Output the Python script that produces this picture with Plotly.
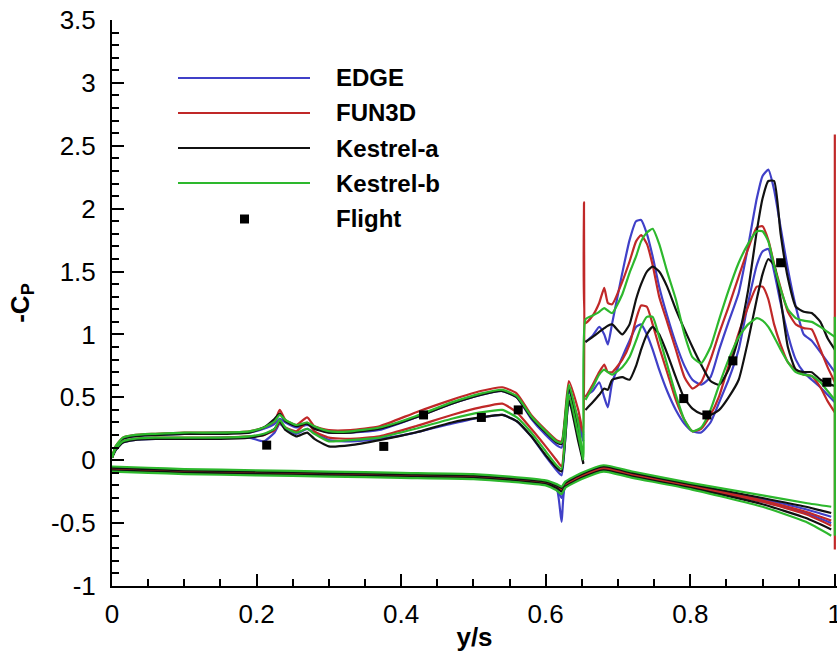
import plotly.graph_objects as go

# ---------------- data ----------------
# inboard upper surface, y/s from root to the crank
X_INNER = [0.0, 0.005, 0.015, 0.03, 0.06, 0.10, 0.15, 0.19, 0.21, 0.225, 0.232, 0.24, 0.255,
           0.27, 0.28, 0.30, 0.33, 0.37, 0.42, 0.47, 0.51, 0.54, 0.56, 0.58, 0.60, 0.615,
           0.622, 0.632, 0.645, 0.652]

EDGE_IN_A = [0.02, 0.10, 0.17, 0.19, 0.20, 0.21, 0.22, 0.22, 0.25, 0.29, 0.33, 0.30, 0.26,
             0.28, 0.26, 0.22, 0.22, 0.24, 0.34, 0.45, 0.52, 0.55, 0.50, 0.33, 0.20, 0.12,
             0.10, 0.55, 0.32, 0.20]
FUN3D_IN_A = [0.02, 0.11, 0.18, 0.20, 0.21, 0.22, 0.22, 0.23, 0.26, 0.31, 0.40, 0.32, 0.28,
              0.34, 0.27, 0.24, 0.24, 0.27, 0.38, 0.48, 0.55, 0.58, 0.53, 0.36, 0.24, 0.16,
              0.15, 0.63, 0.40, 0.22]
KA_IN_A = [0.02, 0.10, 0.17, 0.19, 0.20, 0.21, 0.21, 0.22, 0.26, 0.33, 0.37, 0.31, 0.27,
           0.29, 0.25, 0.22, 0.22, 0.25, 0.34, 0.45, 0.52, 0.55, 0.50, 0.34, 0.22, 0.14,
           0.13, 0.58, 0.25, -0.03]
KB_IN_A = [0.02, 0.11, 0.18, 0.20, 0.21, 0.22, 0.22, 0.23, 0.26, 0.31, 0.36, 0.32, 0.28,
           0.30, 0.27, 0.23, 0.23, 0.26, 0.35, 0.46, 0.53, 0.56, 0.51, 0.35, 0.23, 0.15,
           0.14, 0.60, 0.30, 0.01]

EDGE_IN_B = [0.02, 0.08, 0.14, 0.16, 0.17, 0.17, 0.18, 0.18, 0.15, 0.22, 0.29, 0.25, 0.21,
             0.25, 0.22, 0.16, 0.15, 0.17, 0.22, 0.29, 0.34, 0.36, 0.31, 0.19, 0.03, -0.08,
             -0.12, 0.45, 0.30, 0.15]
FUN3D_IN_B = [0.02, 0.09, 0.15, 0.17, 0.18, 0.18, 0.18, 0.19, 0.20, 0.24, 0.30, 0.26, 0.23,
              0.30, 0.23, 0.18, 0.17, 0.19, 0.27, 0.36, 0.42, 0.45, 0.38, 0.25, 0.11, 0.00,
              -0.05, 0.50, 0.33, 0.22]
KA_IN_B = [0.02, 0.08, 0.14, 0.16, 0.17, 0.17, 0.17, 0.18, 0.20, 0.25, 0.31, 0.24, 0.19,
           0.22, 0.17, 0.11, 0.12, 0.16, 0.22, 0.30, 0.34, 0.36, 0.31, 0.19, 0.04, -0.06,
           -0.09, 0.48, 0.15, -0.02]
KB_IN_B = [0.02, 0.09, 0.15, 0.17, 0.18, 0.18, 0.18, 0.19, 0.21, 0.25, 0.32, 0.26, 0.22,
           0.25, 0.21, 0.15, 0.16, 0.18, 0.25, 0.33, 0.38, 0.40, 0.34, 0.22, 0.07, -0.04,
           -0.07, 0.52, 0.20, 0.00]

# outboard upper surface, crank to tip
X_OUTER = [0.655, 0.665, 0.674, 0.681, 0.686, 0.692, 0.706, 0.716, 0.725, 0.732, 0.740,
           0.748, 0.757, 0.768, 0.780, 0.792, 0.803, 0.815, 0.828, 0.840, 0.853, 0.867,
           0.880, 0.892, 0.900, 0.908, 0.916, 0.925, 0.935, 0.946, 0.957, 0.968, 0.980,
           0.990, 1.0]

EDGE_OUT_A = [0.94, 0.99, 1.06, 1.00, 0.92, 1.09, 1.49, 1.75, 1.90, 1.91, 1.80, 1.62, 1.38,
              1.15, 0.93, 0.75, 0.64, 0.60, 0.66, 0.88, 1.10, 1.33, 1.70, 2.08, 2.26, 2.31,
              2.15, 1.85, 1.52, 1.22, 1.00, 0.95, 0.86, 0.78, 0.70]
FUN3D_OUT_A = [1.09, 1.15, 1.25, 1.37, 1.25, 1.24, 1.42, 1.58, 1.74, 1.79, 1.72, 1.55, 1.30,
               1.10, 0.88, 0.66, 0.57, 0.62, 0.80, 1.01, 1.22, 1.46, 1.68, 1.85, 1.86, 1.75,
               1.56, 1.37, 1.18, 1.08, 1.05, 1.04, 0.88, 0.74, 0.62]
KA_OUT_A = [0.94, 0.98, 1.02, 1.05, 1.07, 1.08, 1.00, 1.08, 1.28, 1.40, 1.50, 1.54, 1.50,
            1.38, 1.20, 1.04, 0.90, 0.76, 0.63, 0.60, 0.72, 0.98, 1.35, 1.82, 2.08, 2.22,
            2.22, 1.80, 1.45, 1.22, 1.18, 1.17, 1.10, 0.97, 0.88]
KB_OUT_A = [1.12, 1.15, 1.18, 1.21, 1.19, 1.17, 1.32, 1.49, 1.62, 1.74, 1.81, 1.84, 1.72,
            1.50, 1.28, 1.00, 0.82, 0.77, 0.90, 1.12, 1.35, 1.57, 1.72, 1.82, 1.82, 1.74,
            1.55, 1.36, 1.20, 1.13, 1.11, 1.10, 1.06, 1.02, 0.98]

EDGE_OUT_B = [0.51, 0.55, 0.62, 0.50, 0.42, 0.62, 0.82, 0.95, 1.06, 1.08, 1.00, 0.88, 0.72,
              0.55, 0.40, 0.29, 0.23, 0.22, 0.30, 0.46, 0.64, 0.88, 1.25, 1.55, 1.66, 1.68,
              1.50, 1.25, 1.00, 0.80, 0.70, 0.64, 0.58, 0.52, 0.46]
FUN3D_OUT_B = [0.50, 0.60, 0.70, 0.76, 0.70, 0.70, 0.80, 0.92, 1.12, 1.23, 1.22, 1.08, 0.90,
               0.70, 0.48, 0.32, 0.23, 0.25, 0.36, 0.51, 0.75, 1.01, 1.22, 1.38, 1.38, 1.28,
               1.08, 0.92, 0.78, 0.72, 0.68, 0.67, 0.58, 0.47, 0.38]
KA_OUT_B = [0.40, 0.46, 0.52, 0.57, 0.56, 0.64, 0.66, 0.64, 0.75, 0.88, 1.00, 1.06, 1.00,
            0.85, 0.66, 0.49, 0.41, 0.37, 0.36, 0.40, 0.50, 0.64, 0.95, 1.28, 1.48, 1.60,
            1.55, 1.28, 0.90, 0.72, 0.70, 0.70, 0.64, 0.61, 0.59]
KB_OUT_B = [0.48, 0.58, 0.68, 0.72, 0.70, 0.68, 0.74, 0.82, 0.95, 1.06, 1.14, 1.14, 0.98,
            0.76, 0.52, 0.32, 0.23, 0.26, 0.40, 0.60, 0.80, 0.98, 1.08, 1.13, 1.11, 1.06,
            0.98, 0.88, 0.78, 0.70, 0.68, 0.67, 0.62, 0.55, 0.48]

# lower surface, root to tip
X_LOWER = [0.0, 0.05, 0.10, 0.20, 0.30, 0.40, 0.50, 0.55, 0.60, 0.615, 0.622, 0.627, 0.65,
           0.68, 0.72, 0.80, 0.90, 0.96, 0.995]

EDGE_LOW_A = [-0.07, -0.08, -0.09, -0.10, -0.11, -0.12, -0.13, -0.15, -0.18, -0.22, -0.49,
              -0.20, -0.12, -0.06, -0.11, -0.20, -0.31, -0.39, -0.45]
EDGE_LOW_B = [-0.08, -0.09, -0.10, -0.11, -0.12, -0.13, -0.14, -0.16, -0.19, -0.23, -0.30,
              -0.21, -0.13, -0.07, -0.12, -0.21, -0.33, -0.42, -0.50]
FUN3D_LOW_A = [-0.07, -0.08, -0.09, -0.10, -0.11, -0.12, -0.13, -0.15, -0.18, -0.21, -0.23,
               -0.19, -0.12, -0.06, -0.11, -0.20, -0.32, -0.41, -0.48]
FUN3D_LOW_B = [-0.08, -0.09, -0.10, -0.11, -0.12, -0.13, -0.14, -0.16, -0.19, -0.22, -0.24,
               -0.20, -0.13, -0.07, -0.12, -0.21, -0.33, -0.43, -0.52]
KA_LOW_A = [-0.06, -0.07, -0.08, -0.09, -0.10, -0.11, -0.12, -0.14, -0.17, -0.20, -0.22,
            -0.18, -0.11, -0.05, -0.10, -0.19, -0.30, -0.37, -0.42]
KA_LOW_B = [-0.08, -0.09, -0.10, -0.11, -0.12, -0.13, -0.14, -0.16, -0.19, -0.22, -0.25,
            -0.21, -0.14, -0.08, -0.13, -0.22, -0.35, -0.46, -0.55]
KB_LOW_A = [-0.05, -0.06, -0.07, -0.08, -0.09, -0.10, -0.11, -0.13, -0.16, -0.19, -0.21,
            -0.17, -0.10, -0.04, -0.09, -0.18, -0.28, -0.34, -0.37]
KB_LOW_B = [-0.09, -0.10, -0.11, -0.12, -0.13, -0.14, -0.15, -0.17, -0.20, -0.24, -0.27,
            -0.22, -0.15, -0.09, -0.14, -0.23, -0.37, -0.49, -0.60]

# crank / tip connector values
FUN3D_CRANK_X, FUN3D_CRANK_Y = [0.653], [2.05]
FUN3D_TIP_X, FUN3D_TIP_Y = [1.0, 1.0], [-0.71, 2.59]
KB_TIP_X, KB_TIP_Y = [1.0, 1.0], [-0.60, 1.14]

# flight test data
FLIGHT_X = [0.214, 0.376, 0.431, 0.511, 0.562, 0.791, 0.823, 0.859, 0.925, 0.989]
FLIGHT_Y = [0.12, 0.11, 0.36, 0.34, 0.40, 0.49, 0.36, 0.79, 1.57, 0.62]

NAMES = ["EDGE", "FUN3D", "Kestrel-a", "Kestrel-b"]
COLORS = ["#4040c8", "#c02828", "#111111", "#2db82d"]

X_RANGE = [0, 1.003]
Y_RANGE = [-1, 3.5]


def join(*segments):
    xs, ys = [], []
    for i, (sx, sy) in enumerate(segments):
        if i:
            xs.append(None)
            ys.append(None)
        xs.extend(sx)
        ys.extend(sy)
    return xs, ys


series = {
    "EDGE": join((X_INNER, EDGE_IN_A), (X_OUTER, EDGE_OUT_A),
                 (X_INNER, EDGE_IN_B), (X_OUTER, EDGE_OUT_B),
                 (X_LOWER, EDGE_LOW_A), (X_LOWER, EDGE_LOW_B)),
    "FUN3D": join((X_INNER + FUN3D_CRANK_X + X_OUTER, FUN3D_IN_A + FUN3D_CRANK_Y + FUN3D_OUT_A),
                  (X_INNER, FUN3D_IN_B), (X_OUTER, FUN3D_OUT_B),
                  (X_LOWER, FUN3D_LOW_A), (X_LOWER, FUN3D_LOW_B),
                  (FUN3D_TIP_X, FUN3D_TIP_Y)),
    "Kestrel-a": join((X_INNER, KA_IN_A), (X_OUTER, KA_OUT_A),
                      (X_INNER, KA_IN_B), (X_OUTER, KA_OUT_B),
                      (X_LOWER, KA_LOW_A), (X_LOWER, KA_LOW_B)),
    "Kestrel-b": join((X_INNER + X_OUTER, KB_IN_A + KB_OUT_A),
                      (X_INNER, KB_IN_B), (X_OUTER, KB_OUT_B),
                      (X_LOWER, KB_LOW_A), (X_LOWER, KB_LOW_B),
                      (KB_TIP_X, KB_TIP_Y)),
}

fig = go.Figure()
for name, color in zip(NAMES, COLORS):
    xs, ys = series[name]
    fig.add_trace(go.Scatter(x=xs, y=ys, mode="lines", name=name,
                             line=dict(color=color, width=2.2, shape="spline", smoothing=0.5),
                             showlegend=False))

fig.add_trace(go.Scatter(x=FLIGHT_X, y=FLIGHT_Y, mode="markers", name="Flight",
                         marker=dict(symbol="square", size=9, color="black"),
                         showlegend=False))

# legend block with long line samples, placed in pixel terms of the page
L, T, B = 112, 20, 586
W, H = 725, 566


def px(x):
    return (x - L) / W


def py(y):
    return (B - y) / H


legend_rows = [78, 113, 148, 183, 219]
shapes, annotations = [], []
for row, name, color in zip(legend_rows, NAMES, COLORS):
    shapes.append(dict(type="line", xref="paper", yref="paper",
                       x0=px(178), x1=px(310), y0=py(row), y1=py(row),
                       line=dict(color=color, width=2)))
shapes.append(dict(type="rect", xref="paper", yref="paper",
                   x0=px(240), x1=px(249), y0=py(legend_rows[4] + 4.5), y1=py(legend_rows[4] - 4.5),
                   fillcolor="black", line=dict(width=0)))
for row, name in zip(legend_rows, NAMES + ["Flight"]):
    annotations.append(dict(xref="paper", yref="paper", x=px(334), y=py(row),
                            xanchor="left", yanchor="middle", showarrow=False,
                            text=f"<b>{name}</b>",
                            font=dict(size=24, color="black",
                                      family="Liberation Sans, Arial, sans-serif")))

fig.update_layout(
    width=837, height=668,
    margin=dict(l=L, r=837 - L - W, t=T, b=668 - B),
    paper_bgcolor="white", plot_bgcolor="white",
    font=dict(family="Liberation Sans, Arial, sans-serif", size=26, color="black"),
    showlegend=False,
    shapes=shapes, annotations=annotations,
)

fig.update_xaxes(
    range=X_RANGE,
    tickvals=[0, 0.2, 0.4, 0.6, 0.8, 1.0],
    ticktext=["0", "0.2", "0.4", "0.6", "0.8", "1"],
    ticks="inside", ticklen=12, tickwidth=2, tickcolor="black",
    minor=dict(ticks="inside", ticklen=7, tickwidth=1.5, tickcolor="black", dtick=0.05),
    showline=True, linewidth=2, linecolor="black",
    showgrid=False, zeroline=False,
    ticklabelstandoff=4, ticklabeloverflow="allow", automargin=False,
    title=dict(text="<b>y/s</b>", font=dict(size=26), standoff=0),
)
fig.update_yaxes(
    range=Y_RANGE,
    tickvals=[-1, -0.5, 0, 0.5, 1, 1.5, 2, 2.5, 3, 3.5],
    ticktext=["-1", "-0.5", "0", "0.5", "1", "1.5", "2", "2.5", "3", "3.5"],
    ticks="inside", ticklen=12, tickwidth=2, tickcolor="black",
    minor=dict(ticks="inside", ticklen=7, tickwidth=1.5, tickcolor="black", dtick=0.1),
    showline=True, linewidth=2, linecolor="black",
    showgrid=False, zeroline=False,
    ticklabelstandoff=9, automargin=False,
    title=dict(text="<b>-C<sub>P</sub></b>", font=dict(size=26), standoff=14),
)

fig.write_html("out.html")
